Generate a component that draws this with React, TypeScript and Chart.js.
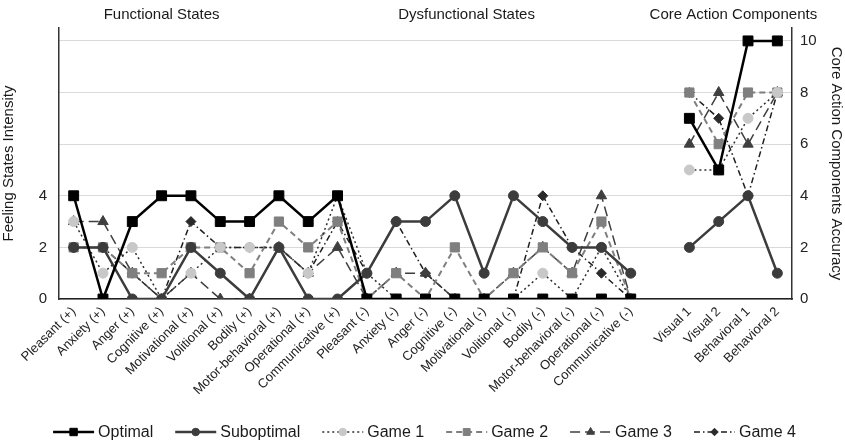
import React, { useEffect, useRef } from 'react';
import { Chart, registerables } from 'chart.js';
import { drawPoint } from 'chart.js/helpers';

Chart.register(...registerables);

const FONT = '"Liberation Sans", Arial, Helvetica, sans-serif';

const functionalLabels = [
  'Pleasant (+)', 'Anxiety (+)', 'Anger (+)', 'Cognitive (+)', 'Motivational (+)',
  'Volitional (+)', 'Bodily (+)', 'Motor-behavioral (+)', 'Operational (+)', 'Communicative (+)',
];
const dysfunctionalLabels = [
  'Pleasant (-)', 'Anxiety (-)', 'Anger (-)', 'Cognitive (-)', 'Motivational (-)',
  'Volitional (-)', 'Bodily (-)', 'Motor-behavioral (-)', 'Operational (-)', 'Communicative (-)',
];
const coreLabels = ['Visual 1', 'Visual 2', 'Behavioral 1', 'Behavioral 2'];

// Feeling states (functional + dysfunctional), 0-4 intensity
const optimalStates = [4, 0, 3, 4, 4, 3, 3, 4, 3, 4, 0, 0, 0, 0, 0, 0, 0, 0, 0, 0];
const suboptimalStates = [2, 2, 0, 0, 2, 1, 0, 2, 0, 0, 1, 3, 3, 4, 1, 4, 3, 2, 2, 1];
const game1States = [3, 1, 2, 0, 1, 2, 2, 2, 1, 4, 1, 0, 0, 0, 0, 0, 1, 0, 2, 0];
const game2States = [2, 2, 1, 1, 2, 2, 1, 3, 2, 3, 0, 1, 0, 2, 0, 1, 2, 1, 3, 0];
const game3States = [3, 3, 1, 0, 1, 0, 0, 2, 1, 2, 0, 1, 1, 0, 0, 1, 2, 1, 4, 0];
const game4States = [2, 2, 1, 0, 3, 2, 2, 2, 1, 3, 1, 3, 1, 0, 0, 0, 4, 2, 1, 0];

// Core action components accuracy, 0-10
const optimalCore = [7, 5, 10, 10];
const suboptimalCore = [2, 3, 4, 1];
const game1Core = [5, 5, 7, 8];
const game2Core = [8, 6, 8, 8];
const game3Core = [6, 8, 6, 8];
const game4Core = [8, 7, 4, 8];

const leftTicks = [0, 2, 4];
const rightTicks = [0, 2, 4, 6, 8, 10];

const sectionTitles = [
  { text: 'Functional States', anchor: 3.0 },
  { text: 'Dysfunctional States', anchor: 13.4 },
  { text: 'Core Action Components', anchor: 22.5 },
];

const labels = [...functionalLabels, ...dysfunctionalLabels, '', ...coreLabels];
const join = (s: number[], c: number[]) => [...s, null, ...c];

const sectionTitlePlugin = {
  id: 'sectionTitles',
  afterDraw(chart: any) {
    const ctx = chart.ctx;
    const xs = chart.scales.x;
    ctx.save();
    ctx.font = `15px ${FONT}`;
    ctx.fillStyle = '#1a1a1a';
    ctx.textAlign = 'center';
    ctx.textBaseline = 'middle';
    sectionTitles.forEach((t) => {
      ctx.fillText(t.text, xs.getPixelForValue(t.anchor), 15);
    });
    ctx.restore();
  },
};

const legendPlugin = {
  id: 'customLegend',
  afterDraw(chart: any) {
    const ctx = chart.ctx;
    ctx.save();
    ctx.font = `16px ${FONT}`;
    const lineW = 41;
    const gapText = 4;
    const gapItem = 22;
    const dss = chart.data.datasets;
    const widths = dss.map((d: any) => lineW + gapText + ctx.measureText(d.label).width);
    const total = widths.reduce((a: number, b: number) => a + b, 0) + gapItem * (dss.length - 1);
    let x = (chart.width - total) / 2 + 2;
    const y = 432;
    dss.forEach((d: any, i: number) => {
      ctx.save();
      ctx.strokeStyle = d.borderColor;
      ctx.lineWidth = d.borderWidth;
      ctx.setLineDash(d.borderDash || []);
      ctx.beginPath();
      ctx.moveTo(x, y);
      ctx.lineTo(x + lineW, y);
      ctx.stroke();
      ctx.setLineDash([]);
      ctx.fillStyle = d.pointBackgroundColor;
      ctx.strokeStyle = d.pointBorderColor;
      ctx.lineWidth = 1;
      drawPoint(ctx, { pointStyle: d.pointStyle, radius: d.pointRadius * 0.75, rotation: 0, borderWidth: 1 } as any, x + lineW / 2, y);
      ctx.restore();
      ctx.fillStyle = '#1a1a1a';
      ctx.textAlign = 'left';
      ctx.textBaseline = 'middle';
      ctx.fillText(d.label, x + lineW + gapText, y + 1);
      x += widths[i] + gapItem;
    });
    ctx.restore();
  },
};

export default function App() {
  const ref = useRef<HTMLCanvasElement | null>(null);
  useEffect(() => {
    if (!ref.current) return;
    const mk = (label: string, data: (number | null)[], color: string, ptColor: string, style: string, radius: number, width: number, dash: number[]) => ({
      label,
      data,
      borderColor: color,
      borderWidth: width,
      borderDash: dash,
      pointStyle: style,
      pointRadius: radius,
      pointBackgroundColor: ptColor,
      pointBorderColor: ptColor,
      pointBorderWidth: 1,
      fill: false,
      tension: 0,
      spanGaps: false,
      yAxisID: 'y',
    });
    const chart = new Chart(ref.current, {
      type: 'line',
      data: {
        labels,
        datasets: [
          mk('Optimal', join(optimalStates, optimalCore), '#000000', '#000000', 'rect', 7, 2.5, []),
          mk('Suboptimal', join(suboptimalStates, suboptimalCore), '#3c3c3c', '#3c3c3c', 'circle', 5, 2.5, []),
          mk('Game 1', join(game1States, game1Core), '#2e2e2e', '#c8c8c8', 'circle', 5, 1.5, [2, 3]),
          mk('Game 2', join(game2States, game2Core), '#7f7f7f', '#7f7f7f', 'rect', 6.5, 2, [6, 4]),
          mk('Game 3', join(game3States, game3Core), '#3f3f3f', '#3f3f3f', 'triangle', 6, 1.5, [10, 5]),
          mk('Game 4', join(game4States, game4Core), '#1e1e1e', '#2a2a2a', 'rectRot', 5, 1.5, [6, 3, 1.5, 3]),
        ] as any,
      },
      options: {
        responsive: false,
        animation: false,
        devicePixelRatio: 1,
        layout: { padding: { top: 28, left: 0, right: 0, bottom: 0 } },
        plugins: {
          legend: { display: false },
          tooltip: { enabled: false },
          title: { display: false },
        },
        scales: {
          x: {
            offset: true,
            grid: { display: false, drawTicks: false },
            border: { display: true, color: '#222', width: 1.5 },
            ticks: {
              autoSkip: false,
              minRotation: 45,
              maxRotation: 45,
              padding: 5,
              color: '#222',
              font: { size: 13, family: FONT },
            },
            afterFit: (s: any) => { s.height = 144; },
          },
          y: {
            position: 'left',
            min: 0,
            max: 10.5,
            grid: { display: false, drawTicks: false },
            border: { display: true, color: '#333', width: 1.5 },
            ticks: { stepSize: 2, padding: 12, color: '#222', font: { size: 15, family: FONT } },
            afterBuildTicks: (s: any) => { s.ticks = leftTicks.map((v) => ({ value: v })); },
            title: { display: true, text: 'Feeling States Intensity', color: '#1a1a1a', font: { size: 15, family: FONT }, padding: { top: 0, bottom: 0 } },
            afterFit: (s: any) => { s.width = 59; },
          },
          y1: {
            position: 'right',
            min: 0,
            max: 10.5,
            grid: { display: true, drawOnChartArea: true, drawTicks: false, color: '#d9d9d9', lineWidth: 1 },
            border: { display: true, color: '#333', width: 1.5 },
            ticks: { stepSize: 2, padding: 8, color: '#222', font: { size: 15, family: FONT } },
            afterBuildTicks: (s: any) => { s.ticks = rightTicks.map((v) => ({ value: v })); },
            title: { display: true, text: 'Core Action Components Accuracy', color: '#1a1a1a', font: { size: 15, family: FONT }, padding: { top: 0, bottom: 0 } },
            afterFit: (s: any) => { s.width = 53; },
          },
        },
      } as any,
      plugins: [sectionTitlePlugin, legendPlugin],
    });
    return () => chart.destroy();
  }, []);
  return (
    <div style={{ position: 'absolute', left: 0, top: 0, width: 845, height: 443, background: '#fff' }}>
      <canvas ref={ref} width={845} height={443} />
    </div>
  );
}
